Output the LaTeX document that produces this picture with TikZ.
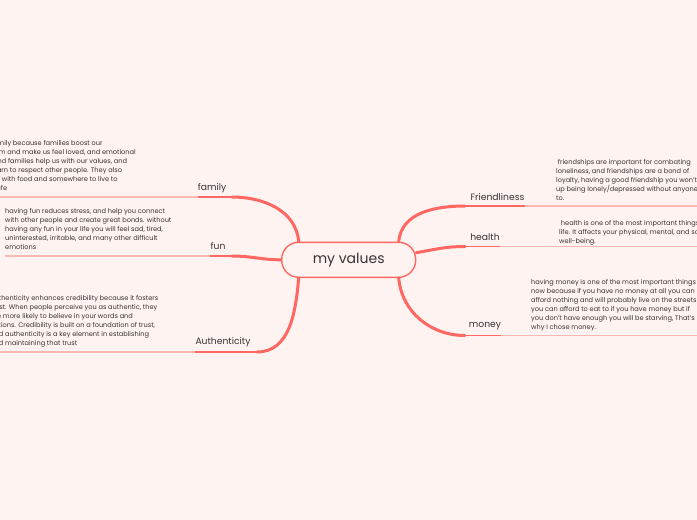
\documentclass[tikz,border=0pt]{standalone}
\usepackage{fontspec}
\setmainfont{Poppins}
\usetikzlibrary{positioning}

\definecolor{bgpink}{RGB}{255,243,241}
\definecolor{coral}{RGB}{255,104,98}
\definecolor{lightcoral}{RGB}{255,184,178}
\definecolor{inkgray}{RGB}{55,50,50}

\begin{document}
\begin{tikzpicture}[x=1pt, y=1pt]

\tikzset{
  root/.style={
    rectangle, rounded corners=17pt,
    draw=coral, line width=1.4pt, fill=bgpink,
    minimum width=134pt, minimum height=35pt,
    inner sep=0pt, font=\fontsize{14}{16}\selectfont, text=inkgray
  },
  topic/.style={inner sep=0pt, font=\fontsize{9.2}{11}\selectfont, text=inkgray},
  note/.style={
    align=left, anchor=north west, inner sep=0pt,
    font=\fontsize{6.6}{9.1}\selectfont, text=inkgray
  },
  branch/.style={draw=coral, line width=3pt, line cap=round},
  stem/.style={draw=coral, line width=1.2pt},
  tail/.style={draw=lightcoral, line width=1.2pt}
}

% ==========================
% Canvas
% ==========================
\clip (0,0) rectangle (697,-520);
\fill[bgpink] (0,0) rectangle (697,-520);

% ==========================
% Centre
% ==========================
\node[root] (root) at (348.7,-259.8) {my values};

% ==========================
% Left side
% ==========================
\coordinate (famP) at (232,-197);
\coordinate (funP) at (232,-256);
\coordinate (authP) at (257,-352);

\node[topic] (famLbl) at (212,-188.5) {family};
\node[topic] (funLbl) at (218,-246) {fun};
\node[topic] (authLbl) at (223,-342) {Authenticity};

\node[note] (famText) at (-34.5,-140) {I chose family because families boost our\\
self-esteem and make us feel loved, and emotional\\
support and families help us with our values, and\\
help us learn to respect other people. They also\\
provide us with food and somewhere to live to\\
keep us safe};
\node[note] (funText) at (5,-208) {having fun reduces stress, and help you connect\\
with other people and create great bonds. without\\
having any fun in your life you will feel sad, tired,\\
uninterested, irritable, and many other difficult\\
emotions};
\node[note] (authText) at (-10,-295) {Authenticity enhances credibility because it fosters\\
trust. When people perceive you as authentic, they\\
are more likely to believe in your words and\\
actions. Credibility is built on a foundation of trust,\\
and authenticity is a key element in establishing\\
and maintaining that trust};

\draw[branch] (root.160) to[out=95, in=0] (famP);
\draw[branch] (root.west) to[out=180, in=0] (funP);
\draw[branch] (root.200) to[out=-95, in=0] (authP);

\draw[stem] (famP) -- (famLbl.west |- famP);
\draw[tail] (famLbl.west |- famP) -- (famText.west |- famP);
\draw[stem] (funP) -- (funLbl.west |- funP);
\draw[tail] (funLbl.west |- funP) -- (funText.west |- funP);
\draw[stem] (authP) -- (authLbl.west |- authP);
\draw[tail] (authLbl.west |- authP) -- (authText.west |- authP);

% ==========================
% Right side
% ==========================
\coordinate (friP) at (465,-206);
\coordinate (heaP) at (465,-246.5);
\coordinate (monP) at (465,-335.5);

\node[topic] (friLbl) at (497.5,-197) {Friendliness};
\node[topic] (heaLbl) at (485,-237) {health};
\node[topic] (monLbl) at (485,-326) {money};

\node[note] (friText) at (556,-159) {\ friendships are important for combating\\
loneliness, and friendships are a bond of\\
loyalty, having a good friendship you won't end\\
up being lonely/depressed without anyone to talk\\
to.};
\node[note] (heaText) at (559,-220) {\ health is one of the most important things in your\\
life. It affects your physical, mental, and social\\
well-being.};
\node[note] (monText) at (531,-279) {having money is one of the most important things\\
now because if you have no money at all you can\\
afford nothing and will probably live on the streets\\
you can afford to eat to if you have money but if\\
you don't have enough you will be starving, That's\\
why I chose money.};

\draw[branch] (root.20) to[out=85, in=180] (friP);
\draw[branch] (root.6) to[out=10, in=180] (heaP);
\draw[branch] (root.-20) to[out=-85, in=180] (monP);

\draw[stem] (friP) -- (friLbl.east |- friP);
\draw[tail] (friLbl.east |- friP) -- (friText.east |- friP);
\draw[stem] (heaP) -- (heaLbl.east |- heaP);
\draw[tail] (heaLbl.east |- heaP) -- (heaText.east |- heaP);
\draw[stem] (monP) -- (monLbl.east |- monP);
\draw[tail] (monLbl.east |- monP) -- (monText.east |- monP);

\end{tikzpicture}
\end{document}
